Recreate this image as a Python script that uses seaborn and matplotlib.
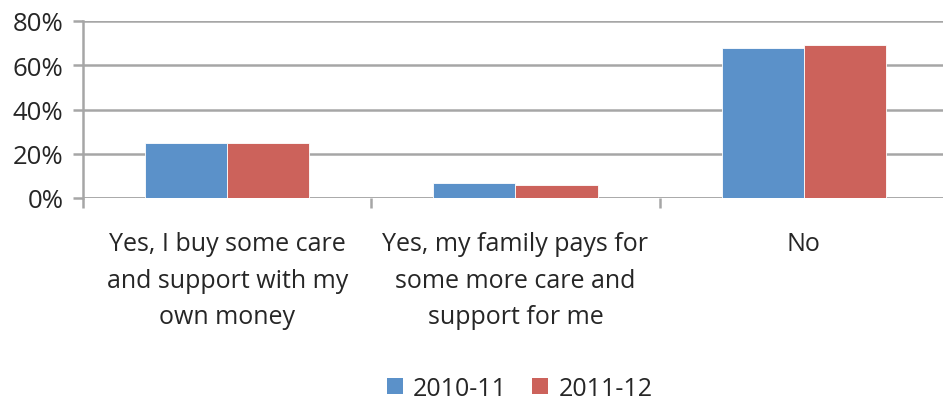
import matplotlib
matplotlib.use("Agg")
import matplotlib.pyplot as plt
import seaborn as sns
import pandas as pd
from matplotlib.patches import Patch
from matplotlib.ticker import FuncFormatter

categories = [
    "Yes, I buy some care\nand support with my\nown money",
    "Yes, my family pays for\nsome more care and\nsupport for me",
    "No",
]
series = ["2010-11", "2011-12"]
values_2010_11 = [25, 7, 68]
values_2011_12 = [25, 6, 69]
y_ticks = [0, 20, 40, 60, 80]

colors = ["#5B91C9", "#CC625B"]
text_color = "#262626"
grid_color = "#A6A6A6"

df = pd.DataFrame({
    "category": categories * 2,
    "series": [series[0]] * 3 + [series[1]] * 3,
    "value": values_2010_11 + values_2011_12,
})

sns.set_theme(style="white")
plt.rcParams["font.family"] = ["Open Sans", "DejaVu Sans"]

fig = plt.figure(figsize=(9.43, 4.06), dpi=100)
W, H = 943, 406
ax = fig.add_axes([83 / W, (406 - 199) / H, (948 - 83) / W, 177 / H])

sns.barplot(data=df, x="category", y="value", hue="series", order=categories,
            hue_order=series, palette=colors, width=0.57, ax=ax,
            edgecolor="white", linewidth=0.6, saturation=1, legend=False)

ax.set_xlim(-0.5, 2.5)
ax.set_ylim(0, 80)
ax.set_yticks(y_ticks)
ax.yaxis.set_major_formatter(FuncFormatter(lambda v, p: f"{int(v)}%"))
ax.yaxis.grid(True, color=grid_color, linewidth=1.8)
ax.set_axisbelow(True)
for s in ["top", "right", "bottom"]:
    ax.spines[s].set_visible(False)
ax.spines["left"].set_color(grid_color)
ax.spines["left"].set_linewidth(1.8)
ax.axhline(0, color=grid_color, linewidth=1.8, zorder=0.5)

ax.tick_params(axis="y", length=7, width=1.8, color=grid_color, pad=7,
               labelsize=18.5, labelcolor=text_color, left=True)
ax.set_xticks([0, 1, 2])
ax.set_xticklabels(categories, fontsize=18, color=text_color, linespacing=1.6)
ax.tick_params(axis="x", which="major", length=0, pad=24)
ax.set_xticks([-0.5, 0.5, 1.5, 2.5], minor=True)
ax.tick_params(axis="x", which="minor", length=7, width=1.8, color=grid_color,
               bottom=True)
ax.set_xlabel("")
ax.set_ylabel("")

handles = [Patch(facecolor=c, edgecolor="none", label=s) for c, s in zip(colors, series)]
fig.legend(handles=handles, loc="lower center", bbox_to_anchor=(0.551, -0.045), ncol=2,
           frameon=False, fontsize=18, handlelength=0.65, handleheight=0.65,
           handletextpad=0.4, columnspacing=1.0, labelcolor=text_color)

fig.savefig("out.png", dpi=100)
